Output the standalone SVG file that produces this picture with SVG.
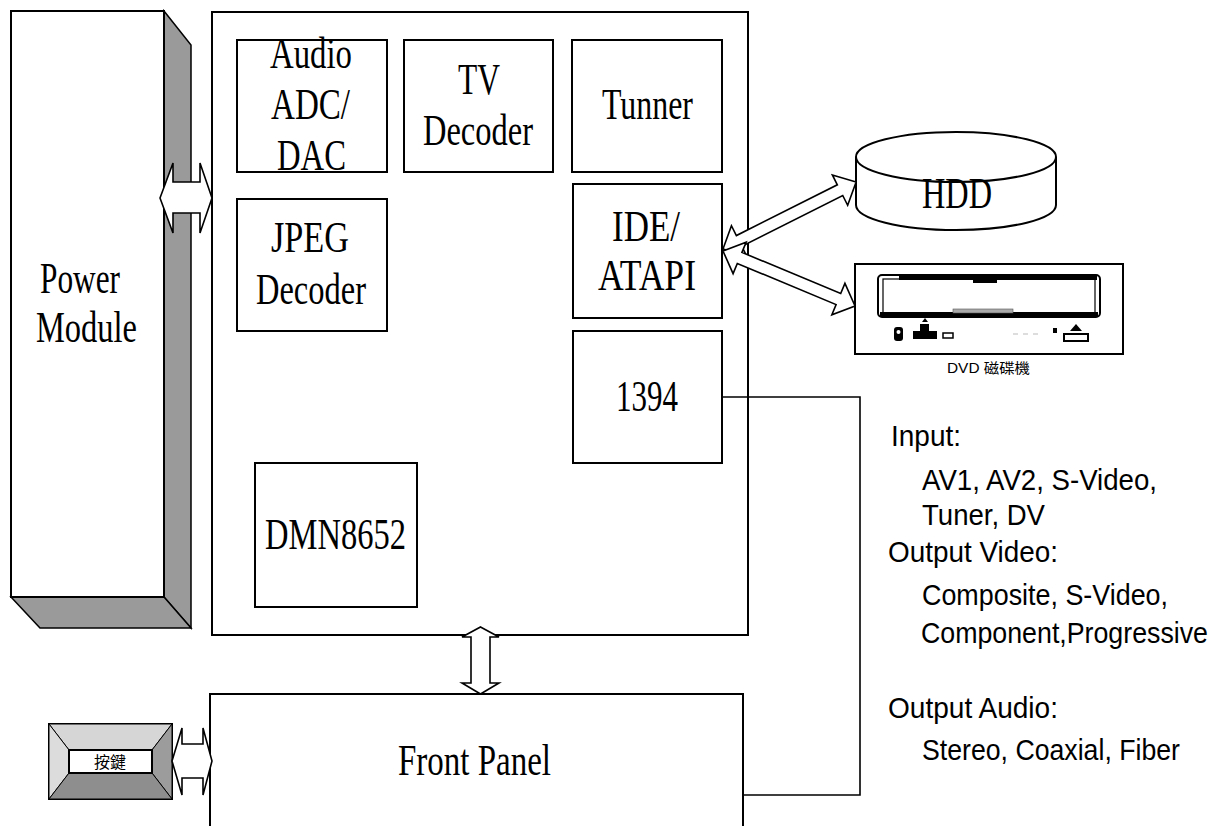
<svg xmlns="http://www.w3.org/2000/svg" width="1224" height="826" viewBox="0 0 1224 826">
<style>
.box{fill:#fff;stroke:#000;stroke-width:2}
.ser{font-family:"Liberation Serif","Times New Roman",serif;font-size:44px;fill:#000}
.san{font-family:"Liberation Sans",Arial,sans-serif;font-size:29px;fill:#000}
.arr{fill:#fff;stroke:#000;stroke-width:1.6;stroke-linejoin:miter}
.shade{fill:#9a9a9a;stroke:#000;stroke-width:1.5}
.wire{fill:none;stroke:#000;stroke-width:1.6}
</style>
<rect x="0" y="0" width="1224" height="826" fill="#fff"/>

<g id="power-module">
  <polygon class="shade" points="164,11 191,45 191,628 164,597"/>
  <polygon class="shade" points="11,597 164,597 191,628 40,628"/>
  <rect class="box" x="11" y="11" width="153" height="586"/>
  <text class="ser" x="40" y="293" textLength="80" lengthAdjust="spacingAndGlyphs">Power</text>
  <text class="ser" x="36" y="342" textLength="101" lengthAdjust="spacingAndGlyphs">Module</text>
</g>

<g id="main-board">
  <rect class="box" x="212" y="12" width="536" height="623"/>
</g>

<g id="audio-adc-dac">
  <rect class="box" x="237" y="40" width="150" height="132"/>
  <text class="ser" x="270" y="68" textLength="82" lengthAdjust="spacingAndGlyphs">Audio</text>
  <text class="ser" x="271" y="119" textLength="79" lengthAdjust="spacingAndGlyphs">ADC/</text>
  <text class="ser" x="277" y="170" textLength="69" lengthAdjust="spacingAndGlyphs">DAC</text>
</g>

<g id="tv-decoder">
  <rect class="box" x="404" y="40" width="149" height="132"/>
  <text class="ser" x="458" y="94" textLength="42" lengthAdjust="spacingAndGlyphs">TV</text>
  <text class="ser" x="423" y="145" textLength="110" lengthAdjust="spacingAndGlyphs">Decoder</text>
</g>

<g id="tunner">
  <rect class="box" x="572" y="40" width="150" height="132"/>
  <text class="ser" x="602" y="119" textLength="91" lengthAdjust="spacingAndGlyphs">Tunner</text>
</g>

<g id="ide-atapi">
  <rect class="box" x="573" y="184" width="149" height="134"/>
  <text class="ser" x="612" y="241" textLength="68" lengthAdjust="spacingAndGlyphs">IDE/</text>
  <text class="ser" x="598" y="290" textLength="98" lengthAdjust="spacingAndGlyphs">ATAPI</text>
</g>

<g id="jpeg-decoder">
  <rect class="box" x="237" y="199" width="150" height="132"/>
  <text class="ser" x="271" y="252" textLength="78" lengthAdjust="spacingAndGlyphs">JPEG</text>
  <text class="ser" x="256" y="304" textLength="110" lengthAdjust="spacingAndGlyphs">Decoder</text>
</g>

<g id="ieee1394">
  <rect class="box" x="573" y="331" width="149" height="132"/>
  <text class="ser" x="616" y="411" textLength="62" lengthAdjust="spacingAndGlyphs">1394</text>
</g>

<g id="dmn8652">
  <rect class="box" x="255" y="463" width="162" height="144"/>
  <text class="ser" x="265" y="549" textLength="141" lengthAdjust="spacingAndGlyphs">DMN8652</text>
</g>

<g id="front-panel">
  <rect class="box" x="210" y="694" width="533" height="140"/>
  <text class="ser" x="398" y="775" textLength="153" lengthAdjust="spacingAndGlyphs">Front Panel</text>
</g>

<g id="button">
  <rect x="49" y="724" width="123" height="75" fill="#fff" stroke="#000" stroke-width="2"/>
  <polygon points="49,724 172,724 152,750 69,750" fill="#d6d6d6" stroke="#000" stroke-width="1"/>
  <polygon points="49,724 69,750 69,773 49,799" fill="#dcdcdc" stroke="#000" stroke-width="1"/>
  <polygon points="172,724 172,799 152,773 152,750" fill="#9c9c9c" stroke="#000" stroke-width="1"/>
  <polygon points="49,799 69,773 152,773 172,799" fill="#8e8e8e" stroke="#000" stroke-width="1"/>
  <rect x="69" y="750" width="83" height="23" fill="#fff" stroke="#000" stroke-width="2"/>
  <text x="110" y="768" text-anchor="middle" font-family="'Noto Sans CJK TC','Noto Sans CJK SC',sans-serif" font-size="16" fill="#000">按鍵</text>
</g>

<g id="hdd">
  <path d="M856,157 L856,205 A100,25 0 0 0 1056,205 L1056,157" fill="#fff" stroke="#000" stroke-width="2"/>
  <ellipse cx="956" cy="157" rx="100" ry="25" fill="#fff" stroke="#000" stroke-width="2"/>
  <text class="ser" x="922" y="208" font-size="40" textLength="70" lengthAdjust="spacingAndGlyphs">HDD</text>
</g>

<g id="dvd-drive">
  <rect x="855" y="264" width="268" height="90" fill="#fff" stroke="#000" stroke-width="2"/>
  <rect x="878" y="275" width="222" height="42" rx="4" fill="#fff" stroke="#000" stroke-width="2"/>
  <rect x="883" y="279" width="212" height="34" fill="none" stroke="#000" stroke-width="1.2"/>
  <rect x="899" y="275" width="198" height="5" fill="#000"/>
  <rect x="973" y="279" width="24" height="4" fill="#000"/>
  <rect x="880" y="312" width="218" height="5" fill="#000"/>
  <rect x="953" y="309" width="60" height="4" fill="#aaa" stroke="#555" stroke-width="0.6"/>
  <rect x="894" y="327" width="9" height="14" rx="3" fill="#000"/>
  <circle cx="898.5" cy="332" r="2" fill="#fff"/>
  <rect x="913" y="331" width="24" height="8" fill="#000"/>
  <rect x="920" y="324" width="9" height="8" fill="#000"/>
  <polygon points="922,322 925,318 928,322" fill="#000"/>
  <rect x="943" y="333" width="10" height="5" fill="#fff" stroke="#000" stroke-width="1.5"/>
  <path d="M1013,334 h5 M1023,334 h5 M1033,334 h5" stroke="#bbb" stroke-width="1.2"/>
  <rect x="1053" y="328" width="4" height="5" fill="#000"/>
  <polygon points="1070,331 1076,324 1082,331" fill="#000"/>
  <rect x="1064" y="334" width="24" height="7" fill="#fff" stroke="#000" stroke-width="2"/>
  <text x="947" y="373" font-family="'Liberation Sans','Noto Sans CJK TC',sans-serif" font-size="14" fill="#000" textLength="83" lengthAdjust="spacingAndGlyphs">DVD 磁碟機</text>
</g>

<g id="specs">
  <text class="san" x="891" y="446" textLength="70" lengthAdjust="spacingAndGlyphs">Input:</text>
  <text class="san" x="922" y="490" textLength="235" lengthAdjust="spacingAndGlyphs">AV1, AV2, S-Video,</text>
  <text class="san" x="922" y="525" textLength="123" lengthAdjust="spacingAndGlyphs">Tuner, DV</text>
  <text class="san" x="888" y="562" textLength="170" lengthAdjust="spacingAndGlyphs">Output Video:</text>
  <text class="san" x="922" y="605" textLength="246" lengthAdjust="spacingAndGlyphs">Composite, S-Video,</text>
  <text class="san" x="921" y="643" textLength="287" lengthAdjust="spacingAndGlyphs">Component,Progressive</text>
  <text class="san" x="888" y="718" textLength="170" lengthAdjust="spacingAndGlyphs">Output Audio:</text>
  <text class="san" x="922" y="760" textLength="258" lengthAdjust="spacingAndGlyphs">Stereo, Coaxial, Fiber</text>
</g>

<g id="connectors">
  <polyline class="wire" points="722,397 860,397 860,795 743,795"/>
  <polygon class="arr" points="160,198 173,163 173,182 200,182 200,163 212,198 200,233 200,213 173,213 173,233"/>
  <polygon class="arr" points="172,761 182,728 182,744 203,744 203,728 212,761 203,795 203,778 182,778 182,795"/>
  <polygon class="arr" points="480.5,627 499,637 490,637 490,683 499,683 480.5,694 462,683 471,683 471,637 462,637"/>
  <polygon class="arr" transform="translate(723,249) rotate(-26.7)" points="0,0 18,-17 18,-6 131,-6 131,-17 149,0 131,17 131,6 18,6 18,17"/>
  <polygon class="arr" transform="translate(723,251) rotate(22.6)" points="0,0 18,-17 18,-6 125,-6 125,-17 143,0 125,17 125,6 18,6 18,17"/>
</g>
</svg>
